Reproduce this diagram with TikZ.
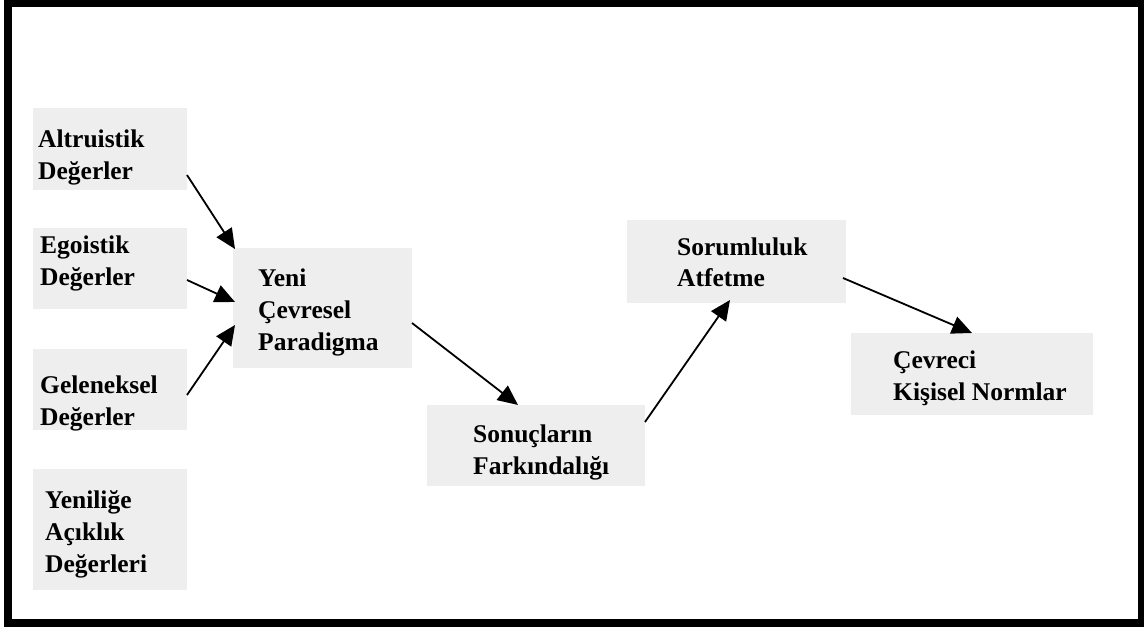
\documentclass[tikz,border=0pt]{standalone}
\usepackage{fontspec}
\setmainfont{Liberation Serif}
\usetikzlibrary{arrows.meta}
\definecolor{boxgray}{HTML}{EEEEEE}
\begin{document}
\begin{tikzpicture}[x=1pt,y=-1pt,
  box/.style={fill=boxgray, draw=none, inner sep=0pt, outer sep=0pt, anchor=north west},
  lbl/.style={anchor=base west, inner sep=0pt, font=\fontsize{25.5}{30}\selectfont\bfseries},
  arr/.style={line width=1.8pt, -{Triangle[length=20pt,width=18pt]}}]
\useasboundingbox (0,0) rectangle (1144,631);
\fill[white] (0,0) rectangle (1144,631);
\draw[line width=8pt] (8,3.5) rectangle (1142,623);
% boxes
\node[box, minimum width=154pt, minimum height=82pt] (alt) at (33,108) {};
\node[box, minimum width=154pt, minimum height=81pt] (ego) at (33,228) {};
\node[box, minimum width=154pt, minimum height=81pt] (gel) at (33,349) {};
\node[box, minimum width=154pt, minimum height=121pt] (yen) at (33,469) {};
\node[box, minimum width=179pt, minimum height=120pt] (par) at (233,248) {};
\node[box, minimum width=218pt, minimum height=81pt] (son) at (427,405) {};
\node[box, minimum width=219pt, minimum height=83pt] (sor) at (627,220) {};
\node[box, minimum width=242pt, minimum height=82pt] (cev) at (851,333) {};
% labels
\node[lbl] (t1a) at (38,148) {Altruistik};
\node[lbl] (t1b) at (38,180) {Değerler};
\node[lbl] (t2a) at (40,254) {Egoistik};
\node[lbl] (t2b) at (40,286) {Değerler};
\node[lbl] (t3a) at (40,393) {Geleneksel};
\node[lbl] (t3b) at (40,425) {Değerler};
\node[lbl] (t4a) at (45,508) {Yeniliğe};
\node[lbl] (t4b) at (45,540) {Açıklık};
\node[lbl] (t4c) at (45,572) {Değerleri};
\node[lbl] (t5a) at (258,287) {Yeni};
\node[lbl] (t5b) at (258,319) {Çevresel};
\node[lbl] (t5c) at (258,350) {Paradigma};
\node[lbl] (t6a) at (473,442) {Sonuçların};
\node[lbl] (t6b) at (473,474) {Farkındalığı};
\node[lbl] (t7a) at (677,256) {Sorumluluk};
\node[lbl] (t7b) at (677,287) {Atfetme};
\node[lbl] (t8a) at (893,368) {Çevreci};
\node[lbl] (t8b) at (893,400) {Kişisel Normlar};
% arrows
\draw[arr] ([yshift=15pt]alt.south east) -- ([xshift=2pt,yshift=-1pt]par.north west);
\draw[arr] ([yshift=-11.5pt]ego.east) -- ([xshift=2pt,yshift=6pt]par.west);
\draw[arr] ([yshift=-5.5pt]gel.east) -- ([xshift=2pt,yshift=-17pt]par.west);
\draw[arr] ([yshift=-15pt]par.east) -- ([xshift=-18pt]son.north);
\draw[arr] ([yshift=-17pt]son.north east) -- ([xshift=-6.5pt,yshift=3pt]sor.south);
\draw[arr] ([xshift=-3pt,yshift=-16.5pt]sor.east) -- (cev.north);
\end{tikzpicture}
\end{document}
